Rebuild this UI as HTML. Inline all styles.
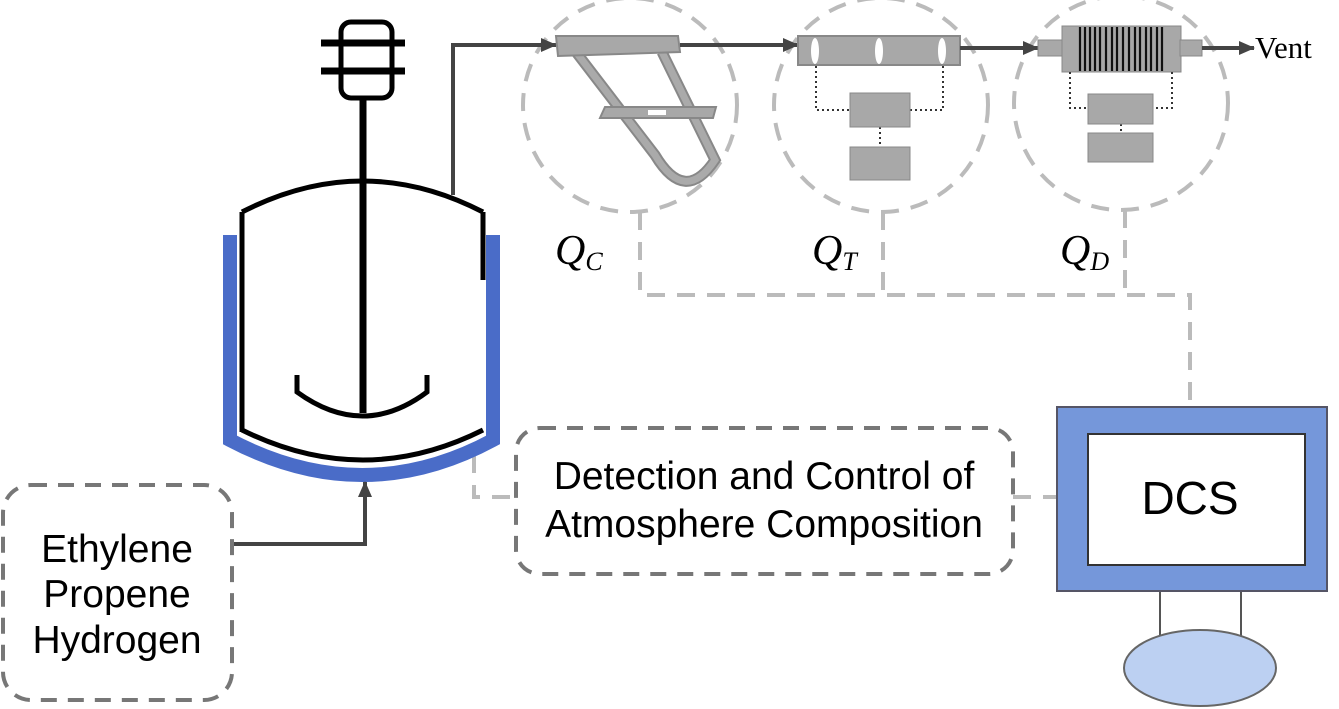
<!DOCTYPE html>
<html><head><meta charset="utf-8"><style>
body{margin:0;background:#fff;}
svg{display:block}
.s{font-family:"Liberation Sans",sans-serif}
.r{font-family:"Liberation Serif",serif}
</style></head><body>
<svg width="1339" height="709" viewBox="0 0 1339 709" xmlns="http://www.w3.org/2000/svg">
<defs>
<marker id="ar" markerWidth="18" markerHeight="16" refX="15" refY="7" orient="auto" markerUnits="userSpaceOnUse"><path d="M0,0 L16,7 L0,14 z" fill="#444"/></marker>
</defs>
<g fill="none" stroke="#bbb" stroke-width="4" stroke-dasharray="18,12">
<circle cx="630" cy="105" r="107"/>
<circle cx="881" cy="105" r="107"/>
<circle cx="1121" cy="103" r="107"/>
<path d="M640 212 V295 H1190 V406"/>
<path d="M883 212 V295"/>
<path d="M1125 210 V295"/>
<path d="M474 455 V497 H515"/>
<path d="M1013 497 H1056"/>
</g>
<path d="M230 235 V440 Q363 510 493 440 V235" fill="none" stroke="#4a6cc8" stroke-width="14"/>
<rect x="243" y="212" width="239" height="72" fill="#fff"/>
<g fill="none" stroke="#000" stroke-width="5">
<path d="M242 212 Q363 150 483 212"/>
<path d="M242 212 V432"/>
<path d="M483 212 V280"/>
<path d="M242 430 Q363 490 483 430"/>
<path d="M297 375 V392 Q363 440 427 392 V375"/>
<rect x="341" y="22" width="51" height="76" rx="10"/>
</g>
<path d="M363 98 V413" stroke="#000" stroke-width="7"/>
<path d="M321 43 H405 M321 71 H405" stroke="#000" stroke-width="7"/>
<path d="M453 195 V45 H556" fill="none" stroke="#444" stroke-width="4" marker-end="url(#ar)"/>
<path d="M232 544 H365 V482" fill="none" stroke="#444" stroke-width="4" marker-end="url(#ar)"/>
<path d="M576 52 L655 155 Q685 205 715 160 L662 52" fill="none" stroke="#888" stroke-width="11"/>
<path d="M576 52 L655 155 Q685 205 715 160 L662 52" fill="none" stroke="#aaa" stroke-width="7"/>
<g fill="#a8a8a8" stroke="#888" stroke-width="2">
<path d="M556 36 L678 36 L680 52 L558 56 z"/>
<path d="M605 107 L716 107 L713 118 L600 118 z"/>
</g>
<rect x="648" y="110" width="18" height="5" fill="#fff"/>
<path d="M680 45 H798" stroke="#444" stroke-width="4" marker-end="url(#ar)"/>
<rect x="798" y="36" width="162" height="29" fill="#a8a8a8" stroke="#888" stroke-width="2"/>
<g fill="#fff"><ellipse cx="815" cy="51" rx="4" ry="13"/><ellipse cx="879" cy="51" rx="4" ry="13"/><ellipse cx="942" cy="51" rx="4" ry="13"/></g>
<g fill="none" stroke="#333" stroke-width="2" stroke-dasharray="2,3">
<path d="M816 66 V110 H850 M943 66 V110 H910 M880 127 V147"/>
</g>
<rect x="850" y="93" width="60" height="34" fill="#a8a8a8" stroke="#888"/>
<rect x="850" y="147" width="60" height="33" fill="#a8a8a8" stroke="#888"/>
<path d="M960 48 H1038" stroke="#444" stroke-width="4" marker-end="url(#ar)"/>
<rect x="1038" y="40" width="28" height="16" fill="#a8a8a8" stroke="#888"/>
<rect x="1062" y="26" width="119" height="46" fill="#a8a8a8" stroke="#888"/>
<g stroke="#111" stroke-width="2.2">
<path d="M1080 27 V71 M1085 27 V71 M1090 27 V71 M1095 27 V71 M1100 27 V71 M1106 27 V71 M1112 27 V71 M1117 27 V71 M1123 27 V71 M1129 27 V71 M1135 27 V71 M1140 27 V71 M1146 27 V71 M1151 27 V71 M1157 27 V71 M1162 27 V71"/>
</g>
<rect x="1180" y="40" width="22" height="16" fill="#a8a8a8" stroke="#888"/>
<path d="M1202 48 H1254" stroke="#444" stroke-width="4" marker-end="url(#ar)"/>
<text class="r" x="1255" y="58" font-size="31">Vent</text>
<g fill="none" stroke="#333" stroke-width="2" stroke-dasharray="2,3">
<path d="M1070 72 V108 H1088 M1172 72 V108 H1153 M1121 124 V133"/>
</g>
<rect x="1088" y="94" width="65" height="30" fill="#a8a8a8" stroke="#888"/>
<rect x="1088" y="133" width="65" height="29" fill="#a8a8a8" stroke="#888"/>
<g font-style="italic" fill="#000">
<text class="r" x="555" y="264" font-size="42">Q<tspan font-size="26" dy="6">C</tspan></text>
<text class="r" x="812" y="264" font-size="42">Q<tspan font-size="26" dy="6">T</tspan></text>
<text class="r" x="1060" y="264" font-size="42">Q<tspan font-size="26" dy="6">D</tspan></text>
</g>
<rect x="3" y="485" width="229" height="215" rx="28" fill="none" stroke="#777" stroke-width="4" stroke-dasharray="16,11"/>
<g font-size="39" text-anchor="middle" fill="#000">
<text class="s" x="117" y="562">Ethylene</text>
<text class="s" x="117" y="607">Propene</text>
<text class="s" x="117" y="653">Hydrogen</text>
</g>
<rect x="516" y="428" width="497" height="146" rx="24" fill="none" stroke="#777" stroke-width="4" stroke-dasharray="16,11"/>
<text class="s" x="764" y="489" font-size="39" text-anchor="middle">Detection and Control of</text>
<text class="s" x="764" y="537" font-size="39" text-anchor="middle">Atmosphere Composition</text>
<path d="M1160 591 V642 M1241 591 V642" stroke="#555" stroke-width="2"/>
<ellipse cx="1200" cy="668" rx="76" ry="38" fill="#bcd0f2" stroke="#666" stroke-width="2"/>
<rect x="1057" y="407" width="270" height="184" fill="#7597da" stroke="#556" stroke-width="2"/>
<rect x="1088" y="434" width="217" height="131" fill="#fff" stroke="#333" stroke-width="2"/>
<text class="s" x="1190" y="514" font-size="46" text-anchor="middle">DCS</text>
</svg>
</body></html>
